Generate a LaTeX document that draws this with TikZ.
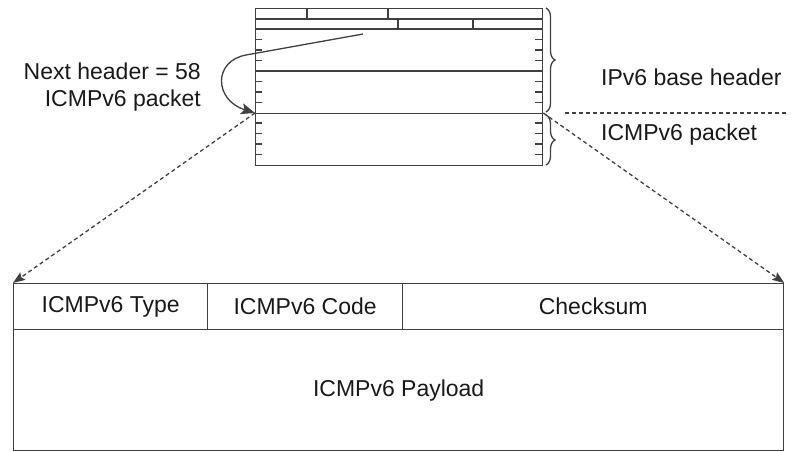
\documentclass[tikz,border=0pt]{standalone}
\usepackage{fontspec}
\setmainfont{Liberation Sans}
\usetikzlibrary{arrows.meta,decorations.pathreplacing}
\definecolor{linegray}{gray}{0.25}
\definecolor{textgray}{gray}{0.1}
\tikzset{
  cell/.style={draw=linegray, line width=1.3pt, inner sep=0pt, anchor=north west, font=\fontsize{23}{27}\selectfont, text=textgray},
  pointer/.style={draw=linegray, line width=1.3pt, dash pattern=on 4pt off 3pt, -{Stealth[length=12pt,width=9pt,inset=2pt]}},
  hbrace/.style={draw=linegray, line width=1.3pt, decorate, decoration={brace, amplitude=9pt}},
  lbl/.style={font=\fontsize{23}{27}\selectfont, text=textgray, inner sep=0pt}
}
\begin{document}
\begin{tikzpicture}[x=1pt, y=-1pt]
\useasboundingbox (0,0) rectangle (791,451);
\node[cell, minimum width=287pt, minimum height=105pt] (ipv6) at (255,8) {};
\node[cell, minimum width=287pt, minimum height=52pt] (icmp) at (255,113) {};
\draw[linegray, line width=1.3pt] (255,19)--(542,19) (255,29)--(542,29) (255,71)--(542,71);
\draw[linegray, line width=1.3pt] (307,8)--(307,19) (388,8)--(388,19) (398,19)--(398,29) (473,19)--(473,29);
\foreach \y in {39.5,50,60.5,81.5,92,102.5,123,133.5,144,154.5}
  \draw[linegray, line width=1.3pt] (255,\y)--(262,\y) (535,\y)--(542,\y);
% pointer to the next header field
\coordinate (nhfield) at (363,34);
\draw[linegray, line width=1.3pt, -{Stealth[length=14pt,width=11pt,inset=3pt]}] (nhfield) -- (246,55) .. controls (213,61) and (214,100) .. (icmp.north west);
\node[lbl, anchor=east, align=right] (nhlabel) at (201,87) {Next header = 58\\ICMPv6 packet};
\draw[hbrace] (546,8) -- (546,112) coordinate[midway] (ipv6mid);
\draw[hbrace] (546,115) -- (546,165);
\node[lbl, anchor=west] (baselabel) at (601,77) {IPv6 base header};
\node[lbl, anchor=west] (packetlabel) at (601,135) {ICMPv6 packet};
\coordinate (sepstart) at (565,113);
\coordinate (sepend) at (786,113);
\draw[linegray, line width=1.3pt, dash pattern=on 4pt off 3pt] (sepstart) -- (sepend);
% ICMPv6 message
\node[cell, minimum width=194pt, minimum height=46pt] (type) at (13,283) {ICMPv6 Type};
\node[cell, minimum width=195pt, minimum height=46pt] (code) at (207,283) {ICMPv6 Code};
\node[cell, minimum width=381pt, minimum height=46pt] (sum) at (402,283) {Checksum};
\node[cell, minimum width=770pt, minimum height=121pt] (payload) at (13,329) {ICMPv6 Payload};
\draw[pointer] (icmp.north west) -- (type.north west);
\draw[pointer] (icmp.north east) -- (sum.north east);
\end{tikzpicture}
\end{document}
